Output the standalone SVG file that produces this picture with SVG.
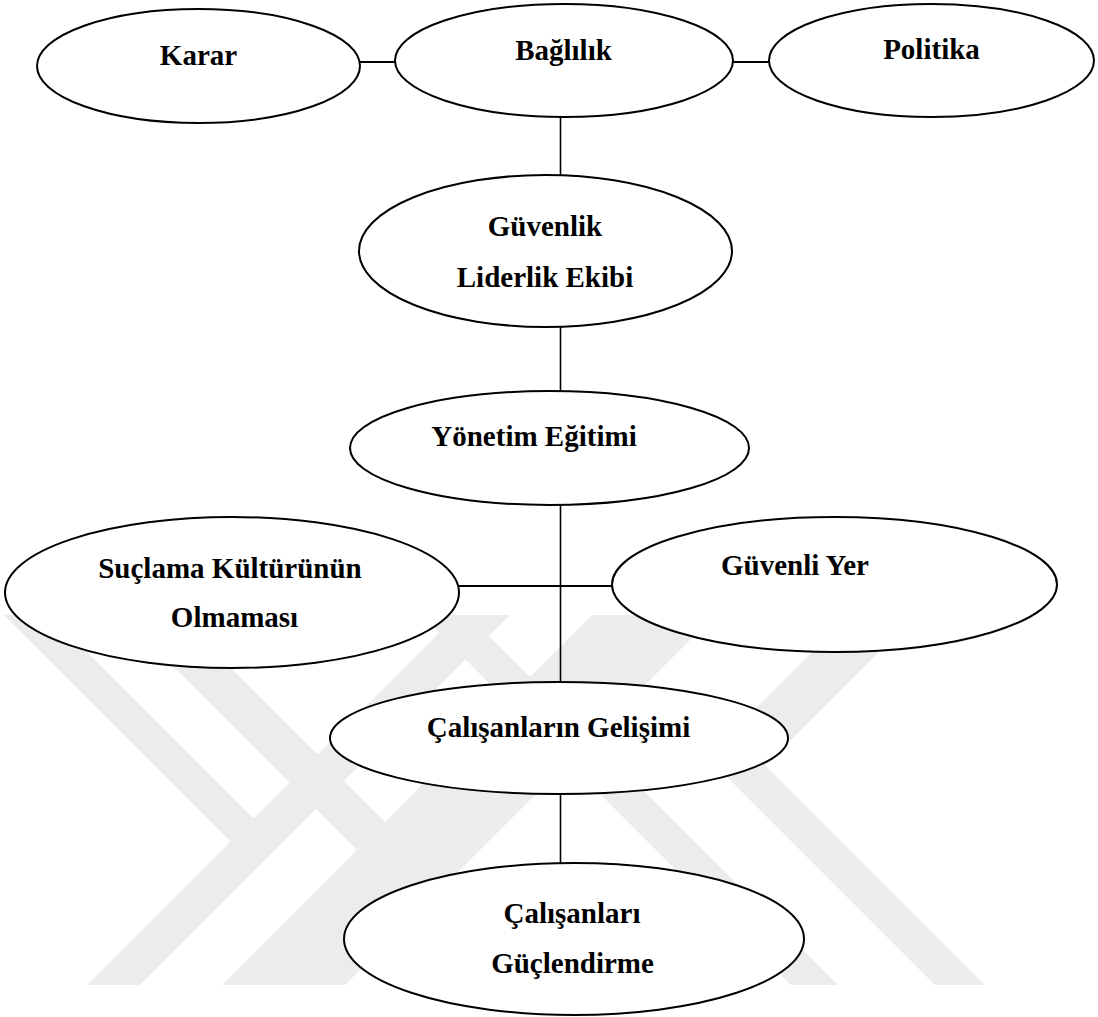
<svg xmlns="http://www.w3.org/2000/svg" width="1098" height="1017" viewBox="0 0 1098 1017">
  <style>
    .node ellipse { fill: #ffffff; stroke: #000000; stroke-width: 2; }
    .node text { font-family: "Liberation Serif", "Times New Roman", serif; font-weight: bold; font-size: 29px; fill: #000000; text-anchor: middle; }
    .edge { stroke: #000000; stroke-width: 1.6; fill: none; }
    .edge.h { stroke-width: 2; }
    .mark { fill: #ececec; }
  </style>

  <rect x="0" y="0" width="1098" height="1017" fill="#ffffff"/>

  <!-- background emblem: diagonal bands -->
  <g id="emblem">
    <polygon class="mark" points="4,615 50,615 253.5,818.5 230.5,841.5"/>
    <polygon class="mark" points="457,615 510,615 140,985 87,985"/>
    <polygon class="mark" points="122,615 178,615 385,822 357,850"/>
    <polygon class="mark" points="592,615 715,615 345,985 222,985"/>
    <polygon class="mark" points="421,615 468,615 838,985 791,985"/>
    <polygon class="mark" points="849,615 916,615 765.5,765.5 985,985 935,985 707,757"/>
  </g>

  <!-- connectors -->
  <g id="connectors">
    <line class="edge h" x1="360" y1="62" x2="395" y2="62"/>
    <line class="edge h" x1="733" y1="62" x2="769" y2="62"/>
    <line class="edge" x1="560.5" y1="117" x2="560.5" y2="175"/>
    <line class="edge" x1="560.5" y1="327" x2="560.5" y2="391"/>
    <line class="edge" x1="560.5" y1="505" x2="560.5" y2="682"/>
    <line class="edge h" x1="459" y1="586" x2="612" y2="586"/>
    <line class="edge" x1="560.5" y1="794" x2="560.5" y2="863"/>
  </g>

  <g id="node-karar" class="node">
    <ellipse cx="198.5" cy="66" rx="161.5" ry="57"/>
    <text x="198.5" y="65">Karar</text>
  </g>
  <g id="node-baglilik" class="node">
    <ellipse cx="564" cy="60.5" rx="169" ry="56.5"/>
    <text x="563.5" y="60">Bağlılık</text>
  </g>
  <g id="node-politika" class="node">
    <ellipse cx="931.5" cy="60.5" rx="162.5" ry="56.5"/>
    <text x="931.5" y="59">Politika</text>
  </g>
  <g id="node-guvenlik-liderlik" class="node">
    <ellipse cx="545.5" cy="251" rx="186.5" ry="76"/>
    <text x="545" y="236">Güvenlik</text>
    <text x="545" y="287">Liderlik Ekibi</text>
  </g>
  <g id="node-yonetim-egitimi" class="node">
    <ellipse cx="549.5" cy="448" rx="199.5" ry="57"/>
    <text x="534" y="446">Yönetim Eğitimi</text>
  </g>
  <g id="node-suclama" class="node">
    <ellipse cx="232" cy="592.5" rx="227" ry="75.5"/>
    <text x="230" y="578">Suçlama Kültürünün</text>
    <text x="234.5" y="627">Olmaması</text>
  </g>
  <g id="node-guvenli-yer" class="node">
    <ellipse cx="834.5" cy="584.5" rx="222.5" ry="67.5"/>
    <text x="795" y="575">Güvenli Yer</text>
  </g>
  <g id="node-calisanlarin-gelisimi" class="node">
    <ellipse cx="559" cy="738" rx="229" ry="56"/>
    <text x="558.5" y="737">Çalışanların Gelişimi</text>
  </g>
  <g id="node-calisanlari-guclendirme" class="node">
    <ellipse cx="574" cy="939" rx="230" ry="76"/>
    <text x="572" y="923">Çalışanları</text>
    <text x="572.5" y="973">Güçlendirme</text>
  </g>
</svg>
